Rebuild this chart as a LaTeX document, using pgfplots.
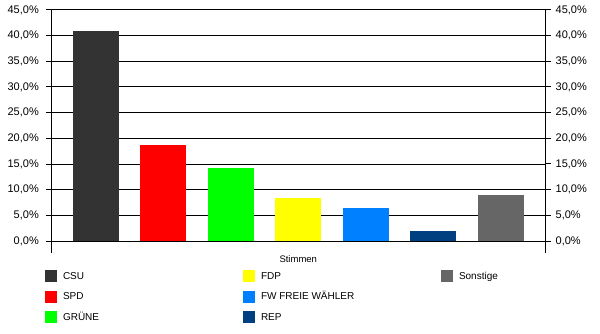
\documentclass[border=0pt]{standalone}
\usepackage{pgfplots}
\pgfplotsset{compat=1.18}
\usepackage{fontspec}
\setmainfont{Liberation Sans}
\definecolor{cCSU}{HTML}{333333}
\definecolor{cSPD}{HTML}{FF0000}
\definecolor{cGRU}{HTML}{00FF00}
\definecolor{cFDP}{HTML}{FFFF00}
\definecolor{cFW}{HTML}{0080FF}
\definecolor{cREP}{HTML}{004080}
\definecolor{cSON}{HTML}{666666}
\begin{document}
\begin{tikzpicture}
\path (0pt,0pt) rectangle (600pt,333pt);
\pgfplotsset{
  common/.style={
    at={(51pt,80pt)}, anchor=south west,
    scale only axis, width=494.5pt, height=243pt,
    xmin=-0.6667, xmax=6.6667, ymin=-2.338, ymax=45,
    ytick={0,5,...,45},
    /pgf/number format/fixed,
    /pgf/number format/fixed zerofill,
    /pgf/number format/precision=1,
    /pgf/number format/use comma,
    /pgf/number format/assume math mode=true,
    yticklabel={\pgfmathprintnumber{\tick}\%},
    tick align=outside, major tick length=5pt,
    every tick/.style={black, line width=1pt},
    y axis line style={line width=1pt, black},
    ticklabel style={font=\fontsize{11}{13}\selectfont},
    clip=false,
  }
}
\begin{axis}[common,
  axis x line*=bottom, axis y line*=left,
  x axis line style={draw=none},
  xtick={3}, xticklabels={Stimmen},
  xtick style={draw=none},
  xticklabel style={font=\fontsize{9.5}{11}\selectfont, inner sep=0pt, anchor=north, yshift=3pt},
  ymajorgrids, grid style={black, line width=1pt},
  yticklabel style={anchor=east, inner sep=0pt, xshift=-7pt},
  legend image code/.code={\fill[#1,draw=none] (0pt,-6pt) rectangle (12pt,6pt);},
  legend style={draw=none, fill=none, inner sep=0pt, outer sep=0pt,
    at={(-0.01213,-0.06996)}, anchor=north west,
    column sep=0pt, row sep=8.5pt,
    nodes={inner sep=0pt, text height=9pt, text depth=3pt, font=\fontsize{10}{12}\selectfont},
    cells={anchor=west}},
  legend columns=3,
]
\addplot[ybar, bar width=46pt, bar shift=0pt, fill=cCSU, draw=none, forget plot] coordinates {(0,40.9)};
\addplot[ybar, bar width=46pt, bar shift=0pt, fill=cSPD, draw=none, forget plot] coordinates {(1,18.7)};
\addplot[ybar, bar width=46pt, bar shift=0pt, fill=cGRU, draw=none, forget plot] coordinates {(2,14.2)};
\addplot[ybar, bar width=46pt, bar shift=0pt, fill=cFDP, draw=none, forget plot] coordinates {(3,8.4)};
\addplot[ybar, bar width=46pt, bar shift=0pt, fill=cFW, draw=none, forget plot] coordinates {(4,6.5)};
\addplot[ybar, bar width=46pt, bar shift=0pt, fill=cREP, draw=none, forget plot] coordinates {(5,2.0)};
\addplot[ybar, bar width=46pt, bar shift=0pt, fill=cSON, draw=none, forget plot] coordinates {(6,9.0)};
\addlegendimage{fill=cCSU,draw=none}\addlegendentry{\makebox[186pt][l]{\hspace{6pt}CSU}}
\addlegendimage{fill=cFDP,draw=none}\addlegendentry{\makebox[186pt][l]{\hspace{6pt}FDP}}
\addlegendimage{fill=cSON,draw=none}\addlegendentry{\makebox[100pt][l]{\hspace{6pt}Sonstige}}
\addlegendimage{fill=cSPD,draw=none}\addlegendentry{\makebox[186pt][l]{\hspace{6pt}SPD}}
\addlegendimage{fill=cFW,draw=none}\addlegendentry{\makebox[186pt][l]{\hspace{6pt}FW FREIE WÄHLER}}
\addlegendimage{empty legend}\addlegendentry{}
\addlegendimage{fill=cGRU,draw=none}\addlegendentry{\makebox[186pt][l]{\hspace{6pt}GRÜNE}}
\addlegendimage{fill=cREP,draw=none}\addlegendentry{\makebox[186pt][l]{\hspace{6pt}REP}}
\end{axis}
\begin{axis}[common,
  axis x line=none, axis y line*=right,
  yticklabel style={anchor=west, inner sep=0pt, xshift=5pt},
]
\addplot[draw=none, forget plot] coordinates {(0,0)};
\end{axis}
\end{tikzpicture}
\end{document}
